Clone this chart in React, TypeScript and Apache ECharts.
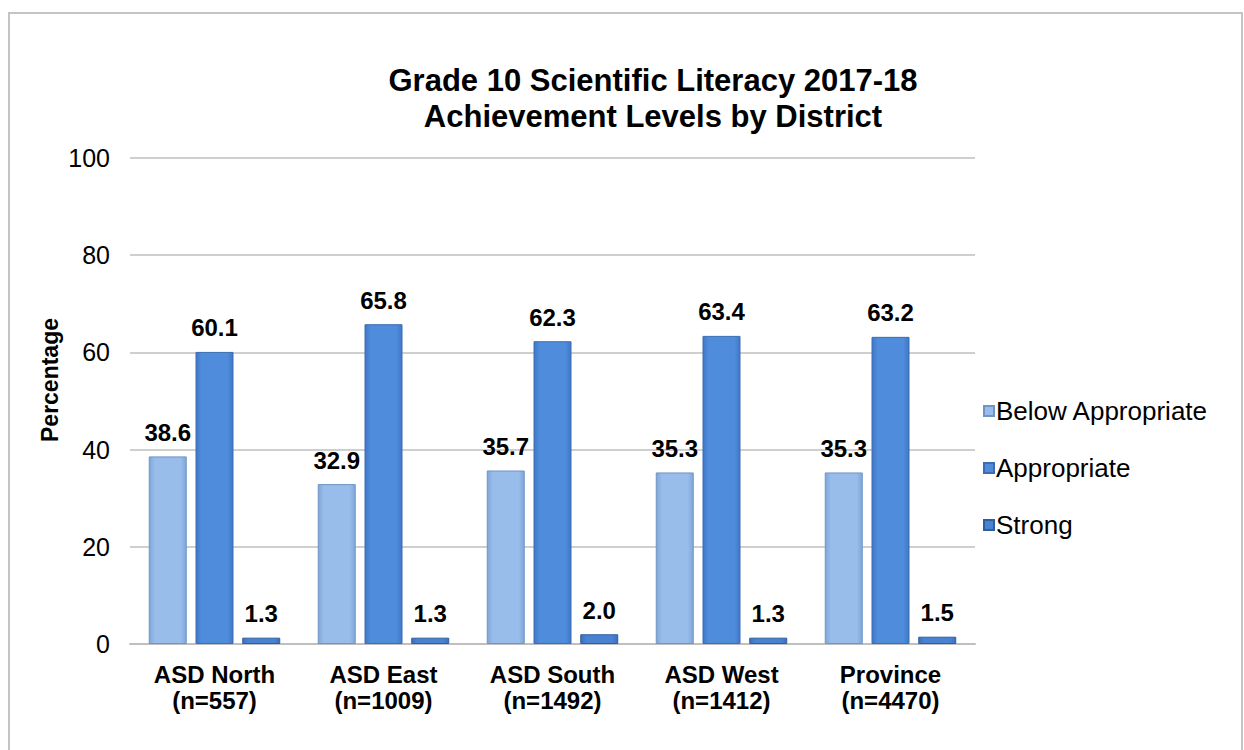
import React, { useEffect, useRef } from "react";
import * as echarts from "echarts";

const categories = [
  "ASD North\n(n=557)",
  "ASD East\n(n=1009)",
  "ASD South\n(n=1492)",
  "ASD West\n(n=1412)",
  "Province\n(n=4470)",
];
const belowAppropriate = [38.6, 32.9, 35.7, 35.3, 35.3];
const appropriate = [60.1, 65.8, 62.3, 63.4, 63.2];
const strong = [1.3, 1.3, 2.0, 1.3, 1.5];
const seriesNames = ["Below Appropriate", "Appropriate", "Strong"];
const titleLines = ["Grade 10 Scientific Literacy 2017-18", "Achievement Levels by District"];

const FONT = "'Liberation Sans', Arial, sans-serif";

function grad(edge: string, mid: string) {
  return new echarts.graphic.LinearGradient(0, 0, 1, 0, [
    { offset: 0, color: edge },
    { offset: 0.15, color: mid },
    { offset: 0.85, color: mid },
    { offset: 1, color: edge },
  ]);
}

export default function App() {
  const ref = useRef<HTMLDivElement>(null);
  useEffect(() => {
    if (!ref.current) return;
    const chart = echarts.init(ref.current, undefined, { renderer: "svg" });
    const label = {
      show: true,
      position: "top",
      distance: 12,
      fontFamily: FONT,
      fontWeight: "bold",
      fontSize: 24,
      color: "#000",
      formatter: (p: any) => Number(p.value).toFixed(1),
    };
    chart.setOption({
      animation: false,
      backgroundColor: "#fff",
      textStyle: { fontFamily: FONT },
      title: {
        text: titleLines.join("\n"),
        left: 648,
        top: 57,
        textAlign: "center",
        textStyle: {
          fontFamily: FONT,
          fontWeight: "bold",
          fontSize: 31,
          lineHeight: 36,
          color: "#000",
        },
      },
      graphic: [
        {
          type: "rect",
          shape: { x: 9, y: 13, width: 1233, height: 760 },
          style: { fill: "none", stroke: "#c4c4c4", lineWidth: 2 },
          silent: true,
        },
        {
          type: "text",
          x: 50,
          y: 380,
          rotation: Math.PI / 2,
          style: {
            text: "Percentage",
            fontFamily: FONT,
            fontWeight: "bold",
            fontSize: 23,
            fill: "#000",
            textAlign: "center",
            textVerticalAlign: "middle",
          },
        },
      ],
      legend: {
        orient: "vertical",
        left: 978,
        top: 393,
        itemWidth: 10,
        itemHeight: 10,
        itemGap: 31,
        icon: "rect",
        textStyle: { fontFamily: FONT, fontSize: 26, color: "#000", padding: [0, 0, 0, -3] },
        data: seriesNames,
      },
      grid: { left: 130, right: 269, top: 158, bottom: 106 },
      xAxis: {
        type: "category",
        data: categories,
        axisTick: { show: false },
        axisLine: { lineStyle: { color: "#bfbfbf", width: 2 } },
        axisLabel: {
          fontFamily: FONT,
          fontWeight: "bold",
          fontSize: 24,
          color: "#000",
          lineHeight: 26,
          margin: 17,
          interval: 0,
        },
      },
      yAxis: {
        type: "value",
        min: 0,
        max: 100,
        interval: 20,
        axisLine: { show: false },
        axisTick: { show: false },
        axisLabel: { fontFamily: FONT, fontSize: 25, color: "#000", margin: 20 },
        splitLine: { lineStyle: { color: "#bfbfbf", width: 1.5 } },
      },
      series: [
        {
          name: seriesNames[0],
          type: "bar",
          data: belowAppropriate,
          barWidth: 38,
          barGap: "23%",
          itemStyle: { color: grad("#7ea6d8", "#98bdea"), borderColor: "#6f95c6", borderWidth: 1 },
          label,
        },
        {
          name: seriesNames[1],
          type: "bar",
          data: appropriate,
          barWidth: 38,
          barGap: "23%",
          itemStyle: { color: grad("#3f78c6", "#4f8cdc"), borderColor: "#3a6db3", borderWidth: 1 },
          label,
        },
        {
          name: seriesNames[2],
          type: "bar",
          data: strong,
          barWidth: 38,
          barGap: "23%",
          itemStyle: { color: grad("#3a6fbf", "#4a82d2"), borderColor: "#2f5e9f", borderWidth: 1 },
          label,
        },
      ],
    });
    return () => chart.dispose();
  }, []);
  return (
    <div
      ref={ref}
      style={{ position: "fixed", left: 0, top: 0, width: 1244, height: 750 }}
    />
  );
}
